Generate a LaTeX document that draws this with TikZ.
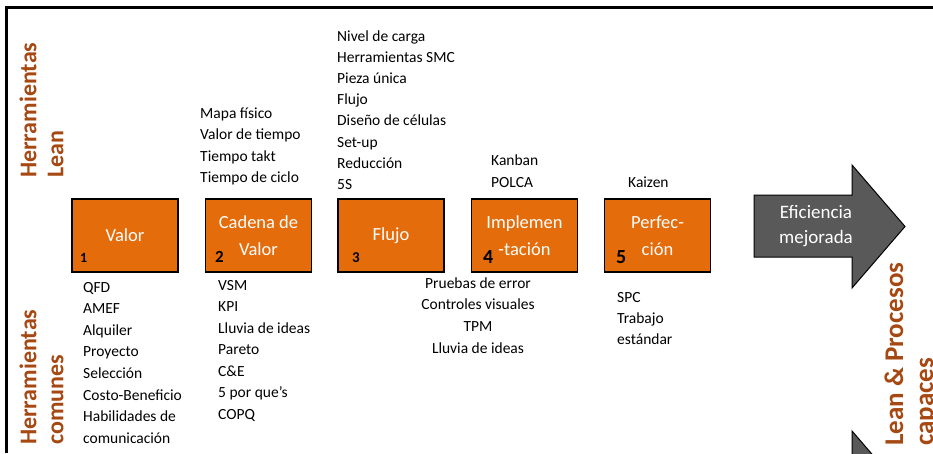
\documentclass[tikz,border=0pt]{standalone}
\usepackage{fontspec}
\setmainfont{Carlito}

\definecolor{naranja}{RGB}{228,108,10}
\definecolor{marron}{RGB}{166,72,18}
\definecolor{gris}{RGB}{89,89,89}

\begin{document}
\begin{tikzpicture}[x=1pt,y=-1pt,
    paso/.style={draw=black,line width=1.5pt,fill=naranja,minimum width=106pt,minimum height=73pt,
        inner sep=0pt,align=center,text=white,font=\fontsize{18.5}{27}\selectfont},
    lista/.style={anchor=base west,inner sep=0pt,font=\fontsize{15.5}{21}\selectfont},
    num/.style={anchor=base west,inner sep=0pt},
    rotulo/.style={rotate=90,anchor=west,align=left,inner sep=0pt,text=marron,
        font=\bfseries\fontsize{24}{27}\selectfont}]
    \clip (0,0) rectangle (933,453);

    % frame, only top and left are visible
    \draw[line width=2.5pt] (6.5,453) -- (6.5,7.5) -- (933,7.5);

    % row labels at left
    \node[rotulo] (lean) at (41.5,178) {Herramientas\\Lean};
    \node[rotulo] (comunes) at (41.5,445) {Herramientas\\comunes};

    % the five steps
    \node[paso] (valor) at (125,235.5) {Valor};
    \node[paso] (cadena) at (258.5,235.5) {Cadena de\\Valor};
    \node[paso] (flujo) at (391,235.5) {Flujo};
    \node[paso] (implem) at (524.5,235.5) {Implemen\\-tación};
    \node[paso] (perfec) at (657.5,235.5) {Perfec-\\ción};

    % step numbers
    \node[num,font=\bfseries\fontsize{14}{14}\selectfont] (n1) at (80,262) {1};
    \node[num,font=\bfseries\fontsize{17}{17}\selectfont] (n2) at (215,262) {2};
    \node[num,font=\bfseries\fontsize{15}{15}\selectfont] (n3) at (352,262) {3};
    \node[num,font=\bfseries\fontsize{20}{20}\selectfont] (n4) at (483,263) {4};
    \node[num,font=\bfseries\fontsize{20}{20}\selectfont] (n5) at (616,263) {5};

    % lean tools above the steps
    \foreach \t [count=\i] in {Mapa físico,Valor de tiempo,Tiempo takt,Tiempo de ciclo}
        \node[lista] (mapa-\i) at (200,{118+21.5*(\i-1)}) {\t};
    \foreach \t [count=\i] in {Nivel de carga,Herramientas SMC,Pieza única,Flujo,Diseño de células,Set-up,Reducción,5S}
        \node[lista] (carga-\i) at (337,{41+21.2*(\i-1)}) {\t};
    \foreach \t [count=\i] in {Kanban,POLCA}
        \node[lista] (kanban-\i) at (491,{165+22*(\i-1)}) {\t};
    \node[lista] (kaizen) at (628,187) {Kaizen};

    % common tools below the steps
    \foreach \t [count=\i] in {QFD,AMEF,Alquiler,Proyecto,Selección,Costo-Beneficio,Habilidades de,comunicación}
        \node[lista] (qfd-\i) at (83,{292+21.6*(\i-1)}) {\t};
    \foreach \t [count=\i] in {VSM,KPI,Lluvia de ideas,Pareto,C\&E,5 por que’s,COPQ}
        \node[lista] (vsm-\i) at (218,{290+21.5*(\i-1)}) {\t};
    \foreach \t [count=\i] in {Pruebas de error,Controles visuales,TPM,Lluvia de ideas}
        \node[lista,anchor=base] (error-\i) at (478,{288+21.7*(\i-1)}) {\t};
    \foreach \t [count=\i] in {SPC,Trabajo,estándar}
        \node[lista] (spc-\i) at (617,{302+21*(\i-1)}) {\t};

    % big arrow, efficiency
    \filldraw[fill=gris,draw=black,line width=1pt] (754,195) -- (852,195) -- (852,165) -- (905,226.5)
        -- (852,288) -- (852,257) -- (754,257) -- cycle;
    \node[align=center,text=white,font=\fontsize{19}{25}\selectfont] (eficiencia) at (816,226.5) {Eficiencia\\mejorada};

    % second arrow, cut by the border
    \begin{scope}[shift={(0,266)}]
        \filldraw[fill=gris,draw=black,line width=1pt] (754,195) -- (852,195) -- (852,165) -- (905,226.5)
            -- (852,288) -- (852,257) -- (754,257) -- cycle;
    \end{scope}

    % label at right
    \node[rotulo,font=\bfseries\fontsize{27}{30}\selectfont] (procesos) at (911,446) {Lean \& Procesos\\capaces};
\end{tikzpicture}
\end{document}
